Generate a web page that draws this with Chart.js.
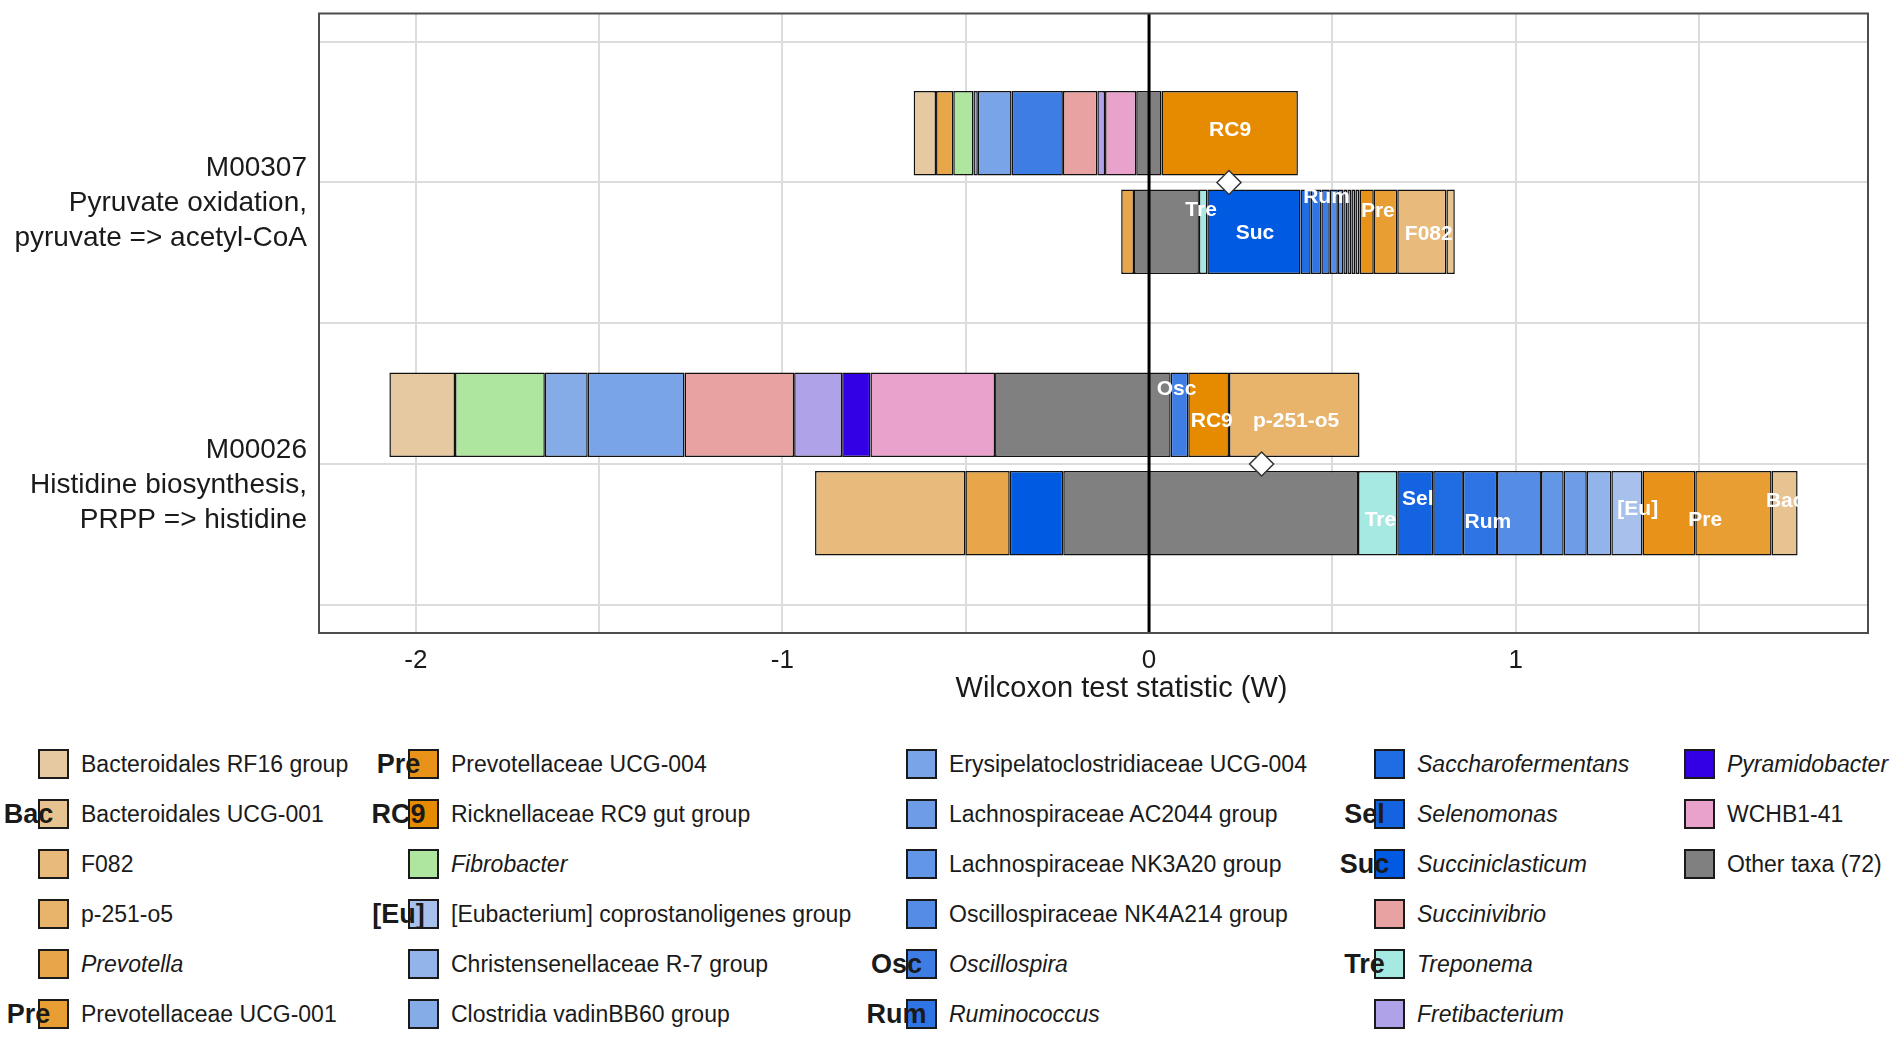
<!DOCTYPE html>
<html>
<head>
<meta charset="utf-8">
<title>Wilcoxon contributions</title>
<script src="https://cdn.jsdelivr.net/npm/chart.js@4.4.0/dist/chart.umd.min.js"></script>
<style>
  body { margin: 0; background: #fff; font-family: "Liberation Sans", Arial, sans-serif; color: #1a1a1a; }
  #wrap { position: relative; width: 1902px; height: 1039px; overflow: hidden; }
  #chartBox { position: absolute; left: 0; top: 0; width: 1902px; height: 720px; }
  .sw { position: absolute; width: 31px; height: 30px; box-sizing: border-box; border: 2px solid #1a1a1a; }
  .lt { position: absolute; font-size: 23px; line-height: 30px; white-space: nowrap; }
  .ab { position: absolute; font-size: 27px; font-weight: bold; line-height: 30px; width: 80px; text-align: center; white-space: nowrap; }
</style>
</head>
<body>
<div id="wrap">
  <div id="chartBox"><canvas id="chart"></canvas></div>
  <div id="legend"></div>
</div>
<script>
// taxa, in legend order
const taxa = [
  'Bacteroidales RF16 group', 'Bacteroidales UCG-001', 'F082', 'p-251-o5', 'Prevotella',
  'Prevotellaceae UCG-001', 'Prevotellaceae UCG-004', 'Ricknellaceae RC9 gut group', 'Fibrobacter',
  '[Eubacterium] coprostanoligenes group', 'Christensenellaceae R-7 group', 'Clostridia vadinBB60 group',
  'Erysipelatoclostridiaceae UCG-004', 'Lachnospiraceae AC2044 group', 'Lachnospiraceae NK3A20 group',
  'Oscillospiraceae NK4A214 group', 'Oscillospira', 'Ruminococcus', 'Saccharofermentans', 'Selenomonas',
  'Succiniclasticum', 'Succinivibrio', 'Treponema', 'Fretibacterium', 'Pyramidobacter', 'WCHB1-41',
  'Other taxa (72)'
];
const taxaShort = ['', 'Bac', '', '', '', 'Pre', 'Pre', 'RC9', '', '[Eu]', '', '', '', '', '', '',
  'Osc', 'Rum', '', 'Sel', 'Suc', '', 'Tre', '', '', '', ''];
const taxaItalic = [0, 0, 0, 0, 1, 0, 0, 0, 1, 0, 0, 0, 0, 0, 0, 0, 1, 1, 1, 1, 1, 1, 1, 1, 1, 0, 0];
const taxaColors = [
  '#e6c9a0', '#e7c391', '#e8bb7c', '#e8b46c', '#e8a64a', '#e89e32', '#e8921a', '#e68a00', '#aee6a0',
  '#a8c0ec', '#92b4ea', '#86ace8', '#7aa4e8', '#6e9ce6', '#6296e6', '#548ce6', '#3e7ee4', '#2f74e4',
  '#206ce2', '#1464e2', '#005ae2', '#e8a2a2', '#a6e8e2', '#b0a2e8', '#3300e6', '#e8a2cc', '#808080'
];

// module tick labels (y = 2 and y = 1)
const moduleValues = [2, 1];
const moduleLabels = [
  ['M00307', 'Pyruvate oxidation,', 'pyruvate => acetyl-CoA'],
  ['M00026', 'Histidine biosynthesis,', 'PRPP => histidine']
];
const xTickValues = [-2, -1.5, -1, -0.5, 0, 0.5, 1, 1.5];
const yTickValues = [0.5, 1, 1.5, 2, 2.5];

// the four stacked bars (two per module)
const barRowY = [2.175, 1.825, 1.175, 0.825];

const barATaxa = ['Bacteroidales RF16 group', 'Prevotella', 'Fibrobacter', 'Christensenellaceae R-7 group',
  'Erysipelatoclostridiaceae UCG-004', 'Oscillospira', 'Succinivibrio', 'Fretibacterium', 'WCHB1-41',
  'Other taxa (72)', 'Ricknellaceae RC9 gut group'];
const barAEdges = [-0.642, -0.581, -0.534, -0.479, -0.467, -0.375, -0.235, -0.141, -0.120, -0.035, 0.034, 0.406];

const barBTaxa = ['Prevotella', 'Other taxa (72)', 'Treponema', 'Succiniclasticum', 'Saccharofermentans',
  'Ruminococcus', 'Oscillospira', 'Oscillospiraceae NK4A214 group', 'Lachnospiraceae NK3A20 group',
  'Lachnospiraceae AC2044 group', 'Erysipelatoclostridiaceae UCG-004', 'Clostridia vadinBB60 group',
  '[Eubacterium] coprostanoligenes group', 'Prevotellaceae UCG-004', 'Prevotellaceae UCG-001', 'F082',
  'Bacteroidales UCG-001'];
const barBEdges = [-0.076, -0.041, 0.136, 0.159, 0.413, 0.441, 0.470, 0.493, 0.515, 0.530, 0.541, 0.552,
  0.563, 0.574, 0.613, 0.677, 0.811, 0.834];

const barCTaxa = ['Bacteroidales RF16 group', 'Fibrobacter', 'Clostridia vadinBB60 group',
  'Erysipelatoclostridiaceae UCG-004', 'Succinivibrio', 'Fretibacterium', 'Pyramidobacter', 'WCHB1-41',
  'Other taxa (72)', 'Oscillospira', 'Ricknellaceae RC9 gut group', 'p-251-o5'];
const barCEdges = [-2.072, -1.893, -1.648, -1.531, -1.267, -0.968, -0.837, -0.760, -0.420, 0.059, 0.107, 0.218, 0.574];

const barDTaxa = ['F082', 'Prevotella', 'Succiniclasticum', 'Other taxa (72)', 'Treponema', 'Selenomonas',
  'Saccharofermentans', 'Ruminococcus', 'Oscillospiraceae NK4A214 group', 'Lachnospiraceae NK3A20 group',
  'Lachnospiraceae AC2044 group', 'Christensenellaceae R-7 group', '[Eubacterium] coprostanoligenes group',
  'Prevotellaceae UCG-004', 'Prevotellaceae UCG-001', 'Bacteroidales UCG-001'];
const barDEdges = [-0.911, -0.501, -0.380, -0.234, 0.570, 0.677, 0.775, 0.856, 0.949, 1.069, 1.131, 1.194,
  1.261, 1.346, 1.490, 1.698, 1.769];

// overall W per module (diamonds)
const diamondX = [0.218, 0.307];
const diamondY = [2, 1];

// white labels inside the bars
const segLabels = ['RC9', 'Tre', 'Suc', 'Rum', 'Pre', 'F082', 'Osc', 'RC9', 'p-251-o5', 'Tre', 'Sel', 'Rum', '[Eu]', 'Pre', 'Bac'];
const segLabelX = [0.221, 0.142, 0.289, 0.484, 0.624, 0.763, 0.075, 0.171, 0.401, 0.631, 0.733, 0.924, 1.333, 1.517, 1.735];
const segLabelY = [2.184, 1.901, 1.820, 1.947, 1.898, 1.816, 1.265, 1.152, 1.152, 0.799, 0.876, 0.792, 0.841, 0.799, 0.869];

// -----------------------------------

const FONT = '"Liberation Sans", Arial, sans-serif';
Chart.defaults.font.family = FONT;
Chart.defaults.color = '#1a1a1a';

const barTaxa = [barATaxa, barBTaxa, barCTaxa, barDTaxa];
const barEdges = [barAEdges, barBEdges, barCEdges, barDEdges];

const datasets = taxa.map((name, t) => ({
  label: name,
  data: [],
  backgroundColor: taxaColors[t],
  borderColor: '#111111',
  borderWidth: 1.5,
  borderSkipped: false,
  grouped: false,
  categoryPercentage: 1,
  barPercentage: 0.857
}));

barTaxa.forEach((list, b) => {
  list.forEach((name, s) => {
    datasets[taxa.indexOf(name)].data.push({ y: barRowY[b], x: [barEdges[b][s], barEdges[b][s + 1]] });
  });
});

datasets.push({
  type: 'scatter',
  label: 'W',
  order: -1,
  data: diamondX.map((x, i) => ({ x: x, y: diamondY[i] })),
  pointStyle: 'rectRot',
  pointRadius: 12,
  pointBackgroundColor: '#ffffff',
  pointBorderColor: '#333333',
  pointBorderWidth: 1.5
});

const decor = {
  id: 'decor',
  afterDatasetsDraw(chart) {
    const { ctx, chartArea: a, scales: { x, y } } = chart;
    ctx.save();
    // zero line sits on top of the bars
    const x0 = x.getPixelForValue(0);
    ctx.strokeStyle = '#000';
    ctx.lineWidth = 3;
    ctx.beginPath();
    ctx.moveTo(x0, a.top);
    ctx.lineTo(x0, a.bottom);
    ctx.stroke();

    ctx.fillStyle = '#ffffff';
    ctx.font = 'bold 21px ' + FONT;
    ctx.textAlign = 'center';
    ctx.textBaseline = 'middle';
    segLabels.forEach((t, i) => {
      ctx.fillText(t, x.getPixelForValue(segLabelX[i]), y.getPixelForValue(segLabelY[i]));
    });
    ctx.restore();
  },
  afterDraw(chart) {
    const { ctx, chartArea: a } = chart;
    ctx.save();
    ctx.strokeStyle = '#4d4d4d';
    ctx.lineWidth = 2;
    ctx.strokeRect(a.left, a.top, a.right - a.left, a.bottom - a.top);

    ctx.fillStyle = '#1a1a1a';
    ctx.font = '29px ' + FONT;
    ctx.textAlign = 'center';
    ctx.textBaseline = 'middle';
    ctx.fillText('Wilcoxon test statistic (W)', (a.left + a.right) / 2 + 28, 689);
    ctx.restore();
  }
};

new Chart(document.getElementById('chart'), {
  type: 'bar',
  data: { datasets: datasets },
  plugins: [decor],
  options: {
    indexAxis: 'y',
    responsive: true,
    maintainAspectRatio: false,
    animation: false,
    layout: { padding: { top: 12, right: 34, left: 0, bottom: 0 } },
    plugins: { legend: { display: false }, tooltip: { enabled: false } },
    scales: {
      x: {
        type: 'linear',
        min: -2.264,
        max: 1.961,
        afterBuildTicks: (s) => { s.ticks = xTickValues.map(v => ({ value: v })); },
        afterFit: (s) => { s.height = 87; s.paddingLeft = 0; s.paddingRight = 0; },
        ticks: {
          font: { size: 26 },
          color: '#1a1a1a',
          padding: 12,
          maxRotation: 0,
          autoSkip: false,
          callback: (v) => Number.isInteger(v) ? String(v) : ''
        },
        grid: { color: '#dcdcdc', lineWidth: 2, drawTicks: false },
        border: { display: false }
      },
      y: {
        type: 'linear',
        min: 0.4,
        max: 2.6,
        offset: false,
        afterBuildTicks: (s) => { s.ticks = yTickValues.map(v => ({ value: v })); },
        afterFit: (s) => { s.width = 319; s.paddingTop = 0; s.paddingBottom = 0; },
        ticks: {
          font: { size: 28, lineHeight: 1.25 },
          color: '#1a1a1a',
          padding: 12,
          labelOffset: 21,
          autoSkip: false,
          callback: (v) => {
            const k = moduleValues.indexOf(v);
            return k === -1 ? '' : moduleLabels[k];
          }
        },
        grid: { color: '#dcdcdc', lineWidth: 2, drawTicks: false, offset: false },
        border: { display: false }
      }
    }
  }
});

// legend: five columns of six rows, built from the taxa arrays
const legend = document.getElementById('legend');
const colSwatchLeft = [38, 408, 906, 1374, 1684];
taxa.forEach((name, t) => {
  const col = Math.floor(t / 6), row = t % 6;
  const left = colSwatchLeft[col], top = 749 + row * 50;
  const sw = document.createElement('div');
  sw.className = 'sw';
  sw.style.left = left + 'px';
  sw.style.top = top + 'px';
  sw.style.background = taxaColors[t];
  legend.appendChild(sw);
  if (taxaShort[t]) {
    const ab = document.createElement('div');
    ab.className = 'ab';
    ab.textContent = taxaShort[t];
    ab.style.left = (left + 15.5 - 25 - 40) + 'px';
    ab.style.top = top + 'px';
    legend.appendChild(ab);
  }
  const lt = document.createElement('div');
  lt.className = 'lt';
  lt.textContent = name;
  if (taxaItalic[t]) lt.style.fontStyle = 'italic';
  lt.style.left = (left + 43) + 'px';
  lt.style.top = top + 'px';
  legend.appendChild(lt);
});
</script>
</body>
</html>
